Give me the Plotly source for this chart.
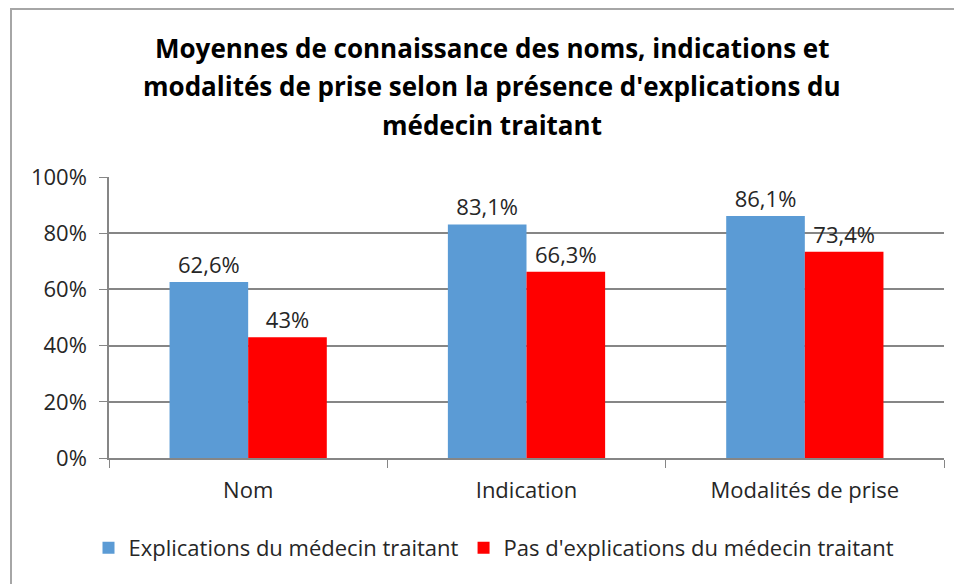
import plotly.graph_objects as go

categories = ["Nom", "Indication", "Modalités de prise"]
avec_explications = [62.6, 83.1, 86.1]
sans_explications = [43.0, 66.3, 73.4]
series_names = ["Explications du médecin traitant", "Pas d'explications du médecin traitant"]
title_lines = [
    "Moyennes de connaissance des noms, indications et",
    "modalités de prise selon la présence d'explications du",
    "médecin traitant",
]
y_ticks = [0, 20, 40, 60, 80, 100]


def fmt(v):
    return f"{v:g}".replace(".", ",") + "%"


FONT = "Open Sans, Lato, sans-serif"
TXT = "#262626"
FS = 22

fig = go.Figure()
fig.add_trace(go.Bar(
    x=categories, y=avec_explications, name=series_names[0],
    marker=dict(color="#5B9BD5", line=dict(width=0)),
    text=[fmt(v) for v in avec_explications], textposition="outside",
    textfont=dict(size=FS, color=TXT, family=FONT), cliponaxis=False,
))
fig.add_trace(go.Bar(
    x=categories, y=sans_explications, name=series_names[1],
    marker=dict(color="#FF0000", line=dict(width=0)),
    text=[fmt(v) for v in sans_explications], textposition="outside",
    textfont=dict(size=FS, color=TXT, family=FONT), cliponaxis=False,
))

# title lines as annotations (to reproduce wide line spacing)
title_y = [48, 86, 125]
for line, py in zip(title_lines, title_y):
    fig.add_annotation(
        text="<b>" + line + "</b>", xref="paper", yref="paper",
        x=(492 - 109) / 835, y=(458 - py) / 281, showarrow=False,
        xanchor="center", yanchor="middle",
        font=dict(size=26, color="#000000", family=FONT),
    )

# outer chart frame
fig.add_shape(type="rect", xref="paper", yref="paper",
              x0=(11 - 109) / 835, x1=(990 - 109) / 835,
              y0=(458 - 620) / 281, y1=(450 - 1) / 281,
              line=dict(color="#A6A6A6", width=2), layer="below")

fig.update_layout(
    width=954, height=576,
    margin=dict(l=101, r=18, t=169, b=126),
    paper_bgcolor="white", plot_bgcolor="white",
    barmode="group", bargap=0.435, bargroupgap=0,
    font=dict(family=FONT, size=FS, color=TXT),
    showlegend=True,
    legend=dict(orientation="h", x=(494 - 109) / 835, xanchor="center",
                y=(458 - 548) / 281, yanchor="middle",
                font=dict(size=FS, color=TXT, family=FONT),
                traceorder="normal"),
    xaxis=dict(type="category", showline=True, linecolor="#868686", linewidth=1.5,
               ticks="outside", tickson="boundaries", ticklen=8, tickcolor="#868686",
               ticklabelstandoff=12,
               tickfont=dict(size=FS, color=TXT, family=FONT), showgrid=False),
    yaxis=dict(range=[0, 100], tickvals=y_ticks, ticktext=[f"{t}%" for t in y_ticks],
               showline=True, linecolor="#868686", linewidth=1.5,
               ticks="outside", ticklen=8, tickcolor="#868686",
               ticklabelstandoff=8,
               showgrid=True, gridcolor="#868686", gridwidth=1.5,
               zeroline=False, tickfont=dict(size=FS, color=TXT, family=FONT)),
)

fig.write_html("out.html")
